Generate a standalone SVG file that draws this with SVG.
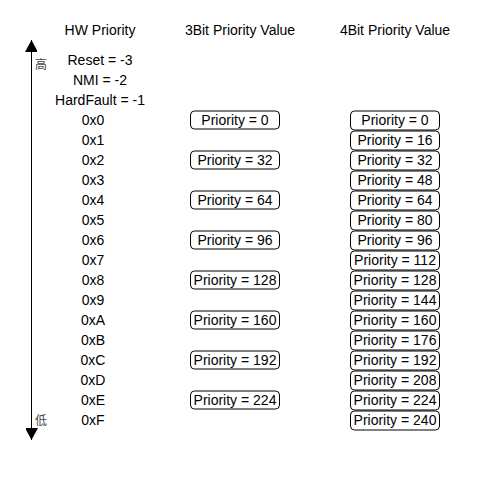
<svg xmlns="http://www.w3.org/2000/svg" width="480" height="480" viewBox="0 0 480 480">
<style>
text{font-family:"Liberation Sans",Arial,"Noto Sans CJK SC",sans-serif;font-size:14px;fill:#000;text-anchor:middle;dominant-baseline:central}
.cjk{font-family:"Noto Sans CJK SC",sans-serif;font-size:12px;fill:#444}
.box{fill:#fff;stroke:#000;stroke-width:1}
</style>
<defs>
<marker id="ah" markerWidth="14" markerHeight="12" refX="12" refY="6.5" orient="auto" markerUnits="userSpaceOnUse">
<path d="M0,0 L12,6.5 L0,13 Z" fill="#000"/>
</marker>
</defs>
<rect width="480" height="480" fill="#fff"/>
<g id="headers">
<text x="100" y="30">HW Priority</text>
<text x="240" y="30">3Bit Priority Value</text>
<text x="395" y="30">4Bit Priority Value</text>
</g>
<g id="connectors">
<line x1="31.5" y1="240" x2="31.5" y2="40" stroke="#000" stroke-width="1" marker-end="url(#ah)"/>
<line x1="31.5" y1="240" x2="31.5" y2="440" stroke="#000" stroke-width="1" marker-end="url(#ah)"/>
</g>
<g id="axis-labels">
<text class="cjk" x="41" y="63">高</text>
<text class="cjk" x="41" y="419">低</text>
</g>
<g id="hw">
<text x="100" y="60">Reset = -3</text>
<text x="100" y="80">NMI = -2</text>
<text x="100" y="100">HardFault = -1</text>
<text x="93" y="120">0x0</text>
<text x="93" y="140">0x1</text>
<text x="93" y="160">0x2</text>
<text x="93" y="180">0x3</text>
<text x="93" y="200">0x4</text>
<text x="93" y="220">0x5</text>
<text x="93" y="240">0x6</text>
<text x="93" y="260">0x7</text>
<text x="93" y="280">0x8</text>
<text x="93" y="300">0x9</text>
<text x="93" y="320">0xA</text>
<text x="93" y="340">0xB</text>
<text x="93" y="360">0xC</text>
<text x="93" y="380">0xD</text>
<text x="93" y="400">0xE</text>
<text x="93" y="420">0xF</text>
</g>
<g id="b3-0"><rect class="box" x="190.5" y="111" width="89" height="18" rx="4"/><text x="235" y="120">Priority = 0</text></g>
<g id="b3-32"><rect class="box" x="190.5" y="151" width="89" height="18" rx="4"/><text x="235" y="160">Priority = 32</text></g>
<g id="b3-64"><rect class="box" x="190.5" y="191" width="89" height="18" rx="4"/><text x="235" y="200">Priority = 64</text></g>
<g id="b3-96"><rect class="box" x="190.5" y="231" width="89" height="18" rx="4"/><text x="235" y="240">Priority = 96</text></g>
<g id="b3-128"><rect class="box" x="190.5" y="271" width="89" height="18" rx="4"/><text x="235" y="280">Priority = 128</text></g>
<g id="b3-160"><rect class="box" x="190.5" y="311" width="89" height="18" rx="4"/><text x="235" y="320">Priority = 160</text></g>
<g id="b3-192"><rect class="box" x="190.5" y="351" width="89" height="18" rx="4"/><text x="235" y="360">Priority = 192</text></g>
<g id="b3-224"><rect class="box" x="190.5" y="391" width="89" height="18" rx="4"/><text x="235" y="400">Priority = 224</text></g>
<g id="b4-0"><rect class="box" x="350.5" y="111" width="89" height="19" rx="4"/><text x="395" y="120">Priority = 0</text></g>
<g id="b4-16"><rect class="box" x="350.5" y="131" width="89" height="19" rx="4"/><text x="395" y="140">Priority = 16</text></g>
<g id="b4-32"><rect class="box" x="350.5" y="151" width="89" height="19" rx="4"/><text x="395" y="160">Priority = 32</text></g>
<g id="b4-48"><rect class="box" x="350.5" y="171" width="89" height="19" rx="4"/><text x="395" y="180">Priority = 48</text></g>
<g id="b4-64"><rect class="box" x="350.5" y="191" width="89" height="19" rx="4"/><text x="395" y="200">Priority = 64</text></g>
<g id="b4-80"><rect class="box" x="350.5" y="211" width="89" height="19" rx="4"/><text x="395" y="220">Priority = 80</text></g>
<g id="b4-96"><rect class="box" x="350.5" y="231" width="89" height="19" rx="4"/><text x="395" y="240">Priority = 96</text></g>
<g id="b4-112"><rect class="box" x="350.5" y="251" width="89" height="19" rx="4"/><text x="395" y="260">Priority = 112</text></g>
<g id="b4-128"><rect class="box" x="350.5" y="271" width="89" height="19" rx="4"/><text x="395" y="280">Priority = 128</text></g>
<g id="b4-144"><rect class="box" x="350.5" y="291" width="89" height="19" rx="4"/><text x="395" y="300">Priority = 144</text></g>
<g id="b4-160"><rect class="box" x="350.5" y="311" width="89" height="19" rx="4"/><text x="395" y="320">Priority = 160</text></g>
<g id="b4-176"><rect class="box" x="350.5" y="331" width="89" height="19" rx="4"/><text x="395" y="340">Priority = 176</text></g>
<g id="b4-192"><rect class="box" x="350.5" y="351" width="89" height="19" rx="4"/><text x="395" y="360">Priority = 192</text></g>
<g id="b4-208"><rect class="box" x="350.5" y="371" width="89" height="19" rx="4"/><text x="395" y="380">Priority = 208</text></g>
<g id="b4-224"><rect class="box" x="350.5" y="391" width="89" height="19" rx="4"/><text x="395" y="400">Priority = 224</text></g>
<g id="b4-240"><rect class="box" x="350.5" y="411" width="89" height="19" rx="4"/><text x="395" y="420">Priority = 240</text></g>
</svg>
